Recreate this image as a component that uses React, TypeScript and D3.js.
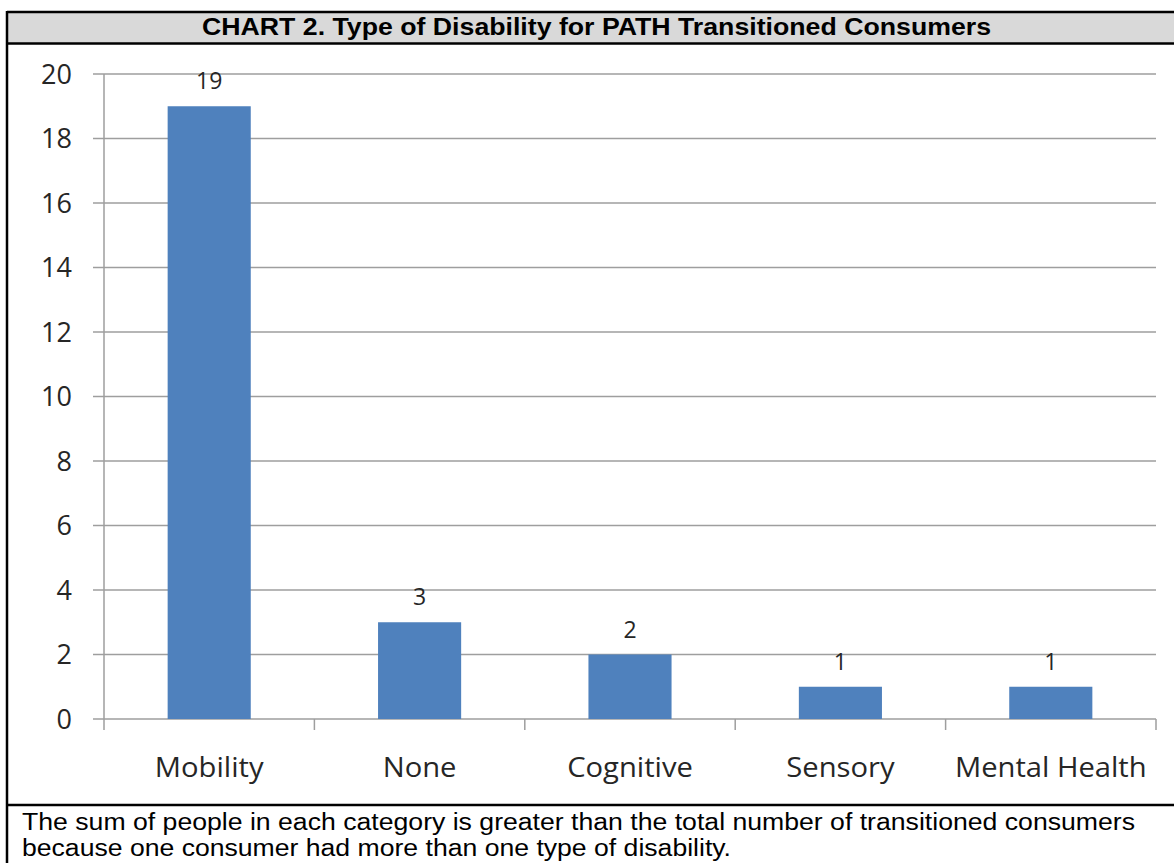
import React from 'react';
import * as d3 from 'd3';

// values
const categories: string[] = ['Mobility', 'None', 'Cognitive', 'Sensory', 'Mental Health'];
const counts: number[] = [19, 3, 2, 1, 1];
const yTicks: number[] = [0, 2, 4, 6, 8, 10, 12, 14, 16, 18, 20];

const titleText = 'CHART 2. Type of Disability for PATH Transitioned Consumers';
const noteLines: string[] = [
  'The sum of people in each category is greater than the total number of transitioned consumers',
  'because one consumer had more than one type of disability.'
];

const W = 1174;
const H = 863;
const plot = { left: 104, right: 1156, top: 74, bottom: 719 };
const chartFont = '"Open Sans", "Noto Sans", sans-serif';
const docFont = '"Liberation Sans", Arial, sans-serif';
const textColor = '#262626';
const gridColor = '#9e9e9e';

const App: React.FC = () => {
  const y = d3.scaleLinear().domain([0, 20]).range([plot.bottom, plot.top]);

  // slots for the axis ticks, narrower band for the bars
  const slot = d3.scaleBand<string>()
    .domain(categories)
    .range([plot.left, plot.right])
    .padding(0);
  const x = d3.scaleBand<string>()
    .domain(categories)
    .range([plot.left, plot.right])
    .paddingInner(0.605)
    .paddingOuter(0.3025);

  const boundaries = categories.map(c => slot(c) as number).concat([plot.right]);

  return (
    <div style={{ position: 'absolute', left: 0, top: 0, width: W, height: H, background: '#fff' }}>
      <svg width={W} height={H} style={{ display: 'block' }}>
        {/* title band */}
        <rect x={7} y={12} width={W} height={31} fill="#d9d9d9" />
        <text
          x={202}
          y={35}
          textLength={789}
          lengthAdjust="spacingAndGlyphs"
          style={{ fontFamily: docFont, fontWeight: 'bold', fontSize: 23, fill: '#000' }}
        >
          {titleText}
        </text>

        {/* table borders */}
        <line x1={7} x2={W} y1={12} y2={12} stroke="#000" strokeWidth={2.5} />
        <line x1={7} x2={W} y1={43.5} y2={43.5} stroke="#000" strokeWidth={2.5} />
        <line x1={7} x2={W} y1={805} y2={805} stroke="#000" strokeWidth={2.5} />
        <line x1={7} x2={7} y1={11} y2={H} stroke="#000" strokeWidth={2.5} />

        {/* grid lines + y ticks */}
        {yTicks.map(t => (
          <g key={t}>
            <line
              x1={plot.left - 11}
              x2={plot.right}
              y1={y(t)}
              y2={y(t)}
              stroke={gridColor}
              strokeWidth={1.5}
            />
            <text
              x={72}
              y={y(t)}
              dy="0.36em"
              textAnchor="end"
              style={{ fontFamily: chartFont, fontSize: 27, fill: textColor }}
            >
              {t}
            </text>
          </g>
        ))}

        {/* y axis line */}
        <line x1={plot.left} x2={plot.left} y1={plot.top} y2={plot.bottom} stroke={gridColor} strokeWidth={1.5} />

        {/* x axis ticks between categories */}
        {boundaries.map((b, i) => (
          <line key={i} x1={b} x2={b} y1={plot.bottom} y2={plot.bottom + 11} stroke={gridColor} strokeWidth={1.5} />
        ))}

        {/* bars */}
        {categories.map((c, i) => (
          <rect
            key={c}
            x={x(c)}
            y={y(counts[i])}
            width={x.bandwidth()}
            height={plot.bottom - y(counts[i])}
            fill="#4f81bd"
          />
        ))}

        {/* value labels */}
        {categories.map((c, i) => (
          <text
            key={c}
            x={(x(c) as number) + x.bandwidth() / 2}
            y={y(counts[i]) - 17}
            textAnchor="middle"
            style={{ fontFamily: chartFont, fontSize: 23, fill: textColor }}
          >
            {counts[i]}
          </text>
        ))}

        {/* category labels, slightly widened like the scanned original */}
        {categories.map(c => (
          <text
            key={c}
            transform={`translate(${(slot(c) as number) + slot.bandwidth() / 2},777) scale(1.08,1)`}
            textAnchor="middle"
            style={{ fontFamily: chartFont, fontSize: 27, fill: textColor }}
          >
            {c}
          </text>
        ))}

        {/* footnote */}
        {noteLines.map((line, i) => (
          <text
            key={i}
            x={22}
            y={830 + i * 26}
            textLength={i === 0 ? 1113 : 709}
            lengthAdjust="spacingAndGlyphs"
            style={{ fontFamily: docFont, fontSize: 23.5, fill: '#000' }}
          >
            {line}
          </text>
        ))}
      </svg>
    </div>
  );
};

export default App;
